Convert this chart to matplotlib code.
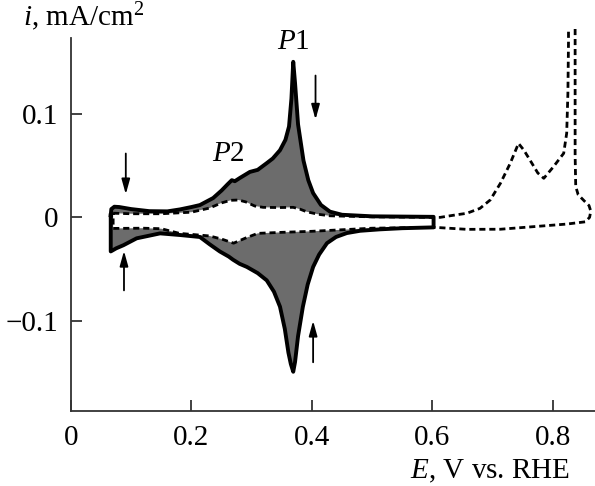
import matplotlib
matplotlib.use('Agg')
import matplotlib.pyplot as plt

plt.rcParams['font.family'] = 'serif'
plt.rcParams['font.serif'] = ['Liberation Serif', 'DejaVu Serif']
plt.rcParams['mathtext.fontset'] = 'custom'
plt.rcParams['mathtext.rm'] = 'Liberation Serif'
plt.rcParams['mathtext.it'] = 'Liberation Serif:italic'

# last (steady-state) cycle, black: anodic branch then cathodic branch
E_last = [0.066, 0.067, 0.072, 0.080, 0.100, 0.130, 0.160, 0.181, 0.200, 0.214, 0.236,
          0.250, 0.260, 0.267, 0.272, 0.280, 0.297, 0.310, 0.325, 0.335, 0.347, 0.356,
          0.362, 0.366, 0.369, 0.372, 0.377, 0.386, 0.394, 0.402, 0.415, 0.430, 0.450,
          0.500, 0.600, 0.602,
          0.602, 0.550, 0.513, 0.480, 0.458, 0.440, 0.425, 0.412, 0.402, 0.393, 0.385,
          0.377, 0.372, 0.369, 0.365, 0.361, 0.355, 0.347, 0.337, 0.325, 0.310, 0.292,
          0.280, 0.269, 0.262, 0.247, 0.230, 0.214, 0.181, 0.148, 0.109, 0.087, 0.075,
          0.066, 0.066]
i_last = [0.002, 0.008, 0.0103, 0.0100, 0.0080, 0.0060, 0.0058, 0.0077, 0.0100, 0.0119, 0.0187,
          0.026, 0.032, 0.036, 0.035, 0.038, 0.044, 0.046, 0.0525, 0.057, 0.065, 0.075,
          0.088, 0.115, 0.1506, 0.130, 0.090, 0.055, 0.036, 0.0235, 0.012, 0.0055, 0.0025,
          0.0010, 0.0005, 0.0005,
          -0.0097, -0.0105, -0.0116, -0.013, -0.0152, -0.019, -0.025, -0.036, -0.048, -0.065, -0.0865,
          -0.115, -0.140, -0.1495, -0.142, -0.131, -0.108, -0.0865, -0.072, -0.061, -0.054, -0.048,
          -0.045, -0.041, -0.038, -0.033, -0.026, -0.019, -0.0171, -0.0155, -0.0203, -0.027, -0.030,
          -0.033, 0.002]

# first cycle, dashed, scanned up to 0.86 V
E_first = [0.070, 0.100, 0.150, 0.200, 0.230, 0.250, 0.265, 0.278, 0.290, 0.305, 0.319,
           0.345, 0.369, 0.380, 0.391, 0.410, 0.430, 0.500, 0.600, 0.613, 0.640, 0.657,
           0.679, 0.696, 0.713, 0.729, 0.743, 0.752, 0.762, 0.775, 0.785, 0.801, 0.818,
           0.823, 0.825, 0.826, 0.826,
           0.837, 0.837, 0.838, 0.842, 0.852, 0.860, 0.863, 0.861, 0.854, 0.823, 0.768,
           0.713, 0.657, 0.613, 0.600, 0.500, 0.450, 0.400, 0.350, 0.310, 0.290, 0.270,
           0.250, 0.230, 0.180, 0.150, 0.120, 0.070, 0.070]
i_first = [0.004, 0.0035, 0.0035, 0.005, 0.009, 0.014, 0.0165, 0.0168, 0.015, 0.011, 0.0097,
           0.0095, 0.0097, 0.008, 0.0055, 0.003, 0.0015, 0.0005, 0.0, 0.0, 0.0025, 0.0039,
           0.0087, 0.0168, 0.033, 0.052, 0.0716, 0.065, 0.0555, 0.043, 0.0378, 0.049, 0.062,
           0.0815, 0.120, 0.170, 0.250,
           0.250, 0.060, 0.030, 0.022, 0.016, 0.0115, 0.006, 0.0, -0.0043, -0.0065, -0.009,
           -0.0115, -0.0116, -0.010, -0.0097, -0.0105, -0.012, -0.0135, -0.0145, -0.0155, -0.020, -0.025,
           -0.021, -0.018, -0.0155, -0.011, -0.0105, -0.0107, 0.004]

x_ticks = [0, 0.2, 0.4, 0.6, 0.8]
x_labels = ['0', '0.2', '0.4', '0.6', '0.8']
y_ticks = [-0.1, 0, 0.1]
y_labels = ['\u22120.1', '0', '0.1']

fig = plt.figure(figsize=(5.95, 4.86), dpi=100)
ax = fig.add_axes([0.1193, 0.1543, 0.8807, 0.788])

# band swept by the intermediate cycles
ax.fill(E_last, i_last, color='#6c6c6c', lw=0, zorder=1)
ax.fill(E_first, i_first, color='white', lw=0, zorder=2)
ax.plot(E_last, i_last, color='black', lw=2.8, zorder=3, solid_joinstyle='round')
ax.plot(E_first, i_first, color='black', lw=2.0, linestyle=(0, (2.2, 1.4)), zorder=4)

ax.set_xlim(0, 0.87)
ax.set_ylim(-0.1875, 0.1833)
for s in ['top', 'right']:
    ax.spines[s].set_visible(False)
ax.spines['left'].set_bounds(-0.1875, 0.1735)
for s in ['left', 'bottom']:
    ax.spines[s].set_linewidth(1.3)
    ax.spines[s].set_color('#333333')

ax.set_xticks(x_ticks, x_labels)
ax.set_yticks(y_ticks, y_labels)
ax.tick_params(direction='in', length=8, width=1.3, color='#333333', labelsize=21)
ax.tick_params(axis='x', pad=10)
ax.tick_params(axis='y', pad=9)

ax.text(0.369, 0.170, '$P$1', fontsize=21, ha='center', va='center')
ax.text(0.261, 0.0612, '$P$2', fontsize=21, ha='center', va='center')

arrow = dict(arrowstyle='-|>,head_length=0.9,head_width=0.25', color='black', lw=1.3)
ax.annotate('', xy=(0.406, 0.092), xytext=(0.406, 0.140), arrowprops=arrow)
ax.annotate('', xy=(0.402, -0.0975), xytext=(0.402, -0.143), arrowprops=arrow)
ax.annotate('', xy=(0.091, 0.0197), xytext=(0.091, 0.0645), arrowprops=arrow)
ax.annotate('', xy=(0.088, -0.0298), xytext=(0.088, -0.0734), arrowprops=arrow)

fig.text(23 / 595, 1 - 17 / 486, '$i$, mA/cm$^2$', fontsize=21, ha='left', va='center')
fig.text(570 / 595, 1 - 471 / 486, '$E$, V vs. RHE', fontsize=21, ha='right', va='center')

fig.savefig('out.png', dpi=100)
